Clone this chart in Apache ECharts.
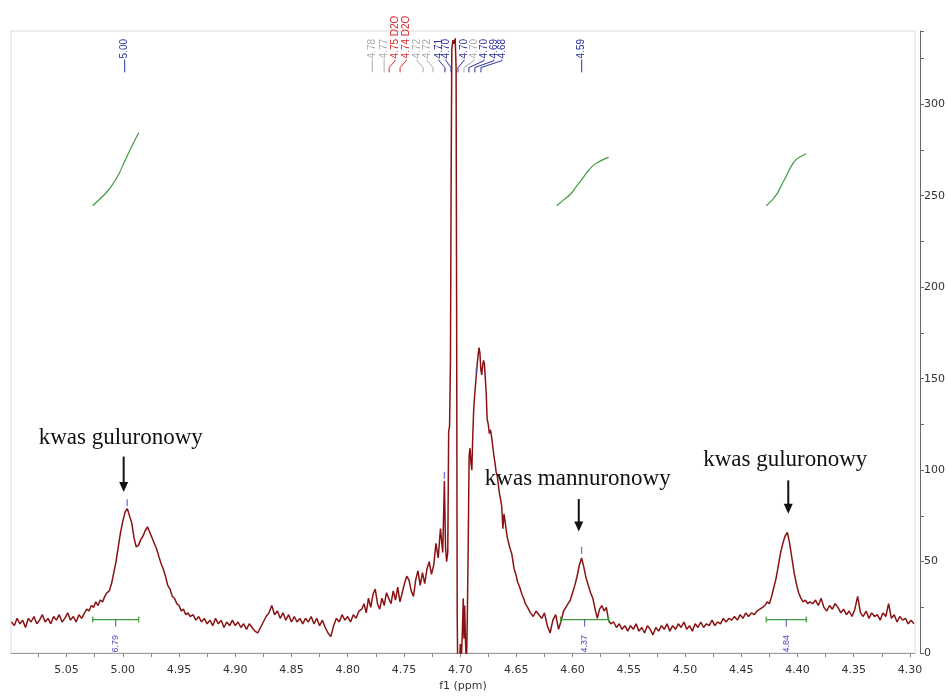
<!DOCTYPE html>
<html>
<head>
<meta charset="utf-8">
<script src="https://cdn.jsdelivr.net/npm/echarts@6/dist/echarts.min.js"></script>
<style>
  html, body { margin: 0; padding: 0; background: #ffffff; }
  #chart { width: 948px; height: 697px; }
</style>
</head>
<body>
<div id="chart"></div>
<script>
// 1H NMR spectrum (f1, ppm) of alginate: chemical shift / intensity pairs per region
const lowFieldBaseline = [
  [5.0990,17],[5.0965,15],[5.0940,19],[5.0915,16],[5.0890,18],[5.0865,14],[5.0840,19],[5.0815,17],
  [5.0790,20],[5.0765,16],[5.0740,18],[5.0715,21],[5.0690,17],[5.0665,19],[5.0640,16],[5.0615,20],
  [5.0590,18],[5.0565,21],[5.0540,17],[5.0515,19],[5.0490,22],[5.0465,18],[5.0440,20],[5.0415,17],
  [5.0390,21],[5.0365,19]
];
const guluronicPeakA = [
  [5.034,22],[5.032,24],[5.030,23],[5.028,26],[5.026,25],[5.024,28],[5.022,26],[5.020,29],
  [5.018,28],[5.016,31],[5.014,33],[5.012,34],[5.010,38],[5.008,44],[5.006,50],[5.004,58],
  [5.002,66],[5.000,72],[4.998,77],[4.996,79],[4.994,75],[4.992,71],[4.990,63],[4.988,58],
  [4.986,59],[4.984,62],[4.982,64],[4.980,67],[4.978,69],[4.976,66],[4.974,63],[4.972,60],
  [4.970,57],[4.968,53],[4.966,49],[4.964,46],[4.962,42],[4.960,37],[4.958,35],[4.956,31],
  [4.954,30],[4.952,27],[4.950,26],[4.948,23],[4.946,24],[4.944,21],[4.942,22],[4.940,20]
];
const midBaseline = [
  [4.9375,21],[4.9350,18],[4.9325,20],[4.9300,17],[4.9275,19],[4.9250,16],[4.9225,18],[4.9200,15],
  [4.9175,19],[4.9150,16],[4.9125,18],[4.9100,14],[4.9075,17],[4.9050,15],[4.9025,18],[4.9000,15],
  [4.8975,17],[4.8950,14],[4.8925,16],[4.8900,13],[4.8875,16],[4.8850,14],[4.8825,12],[4.8800,11],
  [4.8775,14],[4.8750,17],[4.8725,20],[4.8700,22],[4.8675,26],[4.8650,21],[4.8625,23],[4.8600,19],
  [4.8575,22],[4.8550,18],[4.8525,21],[4.8500,17],[4.8475,20],[4.8450,17],[4.8425,19],[4.8400,16],
  [4.8375,19],[4.8350,17],[4.8325,20],[4.8300,16],[4.8275,19],[4.8250,15],[4.8225,18],[4.8200,14],
  [4.8175,11],[4.8150,9],[4.8125,15],[4.8100,19],[4.8075,17],[4.8050,21],[4.8025,18],[4.8000,20],
  [4.7975,17],[4.7950,21],[4.7925,19],[4.7900,23]
];
const waterShoulder = [
  [4.7875,24],[4.7855,27],[4.7835,22],[4.7815,30],[4.7795,25],[4.7775,32],[4.7755,35],[4.7735,27],
  [4.7715,24],[4.7695,30],[4.7675,26],[4.7655,33],[4.7635,30],[4.7615,27],[4.7595,34],[4.7575,29],
  [4.7555,36],[4.7535,28],[4.7515,33],[4.7495,38],[4.7475,42],[4.7455,40],[4.7435,34],[4.7415,31],
  [4.7395,40],[4.7375,45],[4.7355,37],[4.7335,44],[4.7315,38],[4.7295,46],[4.7275,50],[4.7255,43],
  [4.7235,48],[4.7215,60],[4.7195,52],[4.7175,68],[4.7155,55],[4.7140,94],[4.7130,58],[4.7120,50]
];
const waterPeak = [
  [4.7110,55],[4.7102,121],[4.7094,124],[4.7086,160],[4.7080,260],[4.7074,330],[4.7064,335],
  [4.7054,333],[4.7044,336],[4.7036,320],[4.7031,180],[4.7026,20],[4.7020,-20],[4.7010,-10],
  [4.6998,5],[4.6990,-5],[4.6980,12],[4.6972,30],[4.6966,8],[4.6960,26],[4.6952,6],[4.6944,-8],
  [4.6936,20],[4.6928,60],[4.6920,108],[4.6912,112],[4.6904,104],[4.6896,100],[4.6888,118],
  [4.6880,132],[4.6872,140],[4.6864,146],[4.6856,152],[4.6848,158],[4.6840,163],[4.6832,167],
  [4.6824,164],[4.6816,155],[4.6808,152],[4.6800,157],[4.6792,160],[4.6784,158],[4.6776,150],
  [4.6768,142],[4.6760,128],[4.6750,125],[4.6740,120],[4.6730,122],[4.6720,118],[4.6710,113],
  [4.6700,108],[4.6690,104],[4.6680,99],[4.6670,97],[4.6660,92],[4.6650,87],[4.6640,84],
  [4.6630,80],[4.6620,68],[4.6610,76],[4.6600,72],[4.6590,67],[4.6580,63],[4.6570,64],
  [4.6560,58],[4.6550,56],[4.6540,54],[4.6530,50],[4.6520,46],[4.6510,44],[4.6500,42],
  [4.6490,39],[4.6480,38],[4.6470,36],[4.6460,34],[4.6450,32],[4.6440,33],[4.6430,29],
  [4.6420,27],[4.6410,26],[4.6400,25]
];
const mannuronicPeak = [
  [4.6375,22],[4.6350,20],[4.6325,23],[4.6300,21],[4.6275,19],[4.6250,22],[4.6225,15],[4.6200,11],
  [4.6175,18],[4.6150,21],[4.6125,13],[4.6100,18],[4.6080,23],[4.6060,25],[4.6040,27],[4.6020,29],
  [4.6000,33],[4.5980,37],[4.5960,42],[4.5940,48],[4.5920,52],[4.5900,47],[4.5880,41],[4.5860,37],
  [4.5840,33],[4.5820,30],[4.5800,24],[4.5780,19],[4.5760,24],[4.5740,26],[4.5720,23],[4.5700,25],
  [4.5680,18],[4.5660,16]
];
const highFieldBaseline = [
  [4.5635,17],[4.5610,14],[4.5585,16],[4.5560,13],[4.5535,15],[4.5510,12],[4.5485,15],[4.5460,13],
  [4.5435,16],[4.5410,12],[4.5385,14],[4.5360,11],[4.5335,15],[4.5310,13],[4.5285,10],[4.5260,14],
  [4.5235,12],[4.5210,15],[4.5185,13],[4.5160,16],[4.5135,12],[4.5110,15],[4.5085,13],[4.5060,16],
  [4.5035,14],[4.5010,17],[4.4985,13],[4.4960,15],[4.4935,12],[4.4910,16],[4.4885,14],[4.4860,17],
  [4.4835,14],[4.4810,16],[4.4785,15],[4.4760,18],[4.4735,15],[4.4710,17],[4.4685,16],[4.4660,19],
  [4.4635,17],[4.4610,19],[4.4585,18],[4.4560,20],[4.4535,18],[4.4510,21],[4.4485,19],[4.4460,22],
  [4.4435,20],[4.4410,22],[4.4385,21],[4.4360,23],[4.4335,24]
];
const guluronicPeakB = [
  [4.431,25],[4.429,26],[4.427,28],[4.425,27],[4.423,31],[4.421,36],[4.419,41],[4.417,48],
  [4.415,55],[4.413,60],[4.411,64],[4.409,66],[4.407,60],[4.405,52],[4.403,44],[4.401,38],
  [4.399,33],[4.397,30],[4.395,28],[4.393,29],[4.391,27],[4.389,28]
];
const upfieldTail = [
  [4.3865,27],[4.3840,29],[4.3815,26],[4.3790,30],[4.3765,25],[4.3740,23],[4.3715,26],[4.3690,24],
  [4.3665,27],[4.3640,25],[4.3615,22],[4.3590,24],[4.3565,21],[4.3540,23],[4.3515,20],[4.3490,24],
  [4.3465,31],[4.3440,22],[4.3415,20],[4.3390,23],[4.3365,19],[4.3340,22],[4.3315,20],[4.3290,21],
  [4.3265,18],[4.3240,22],[4.3215,20],[4.3190,27],[4.3165,19],[4.3140,21],[4.3115,17],[4.3090,20],
  [4.3065,18],[4.3040,19],[4.3015,16],[4.2990,18],[4.2965,16]
];

// Integral traces and their values
const integralCurveA = [[5.0267,244.5],[5.0205,248.2],[5.0142,252.0],[5.0089,256.3],[5.0036,261.7],[4.9983,268.8],[4.9929,275.8],[4.9885,281.2],[4.9858,284.4]];
const integralCurveB = [[4.6141,244.5],[4.6079,247.7],[4.6017,250.9],[4.5963,255.3],[4.5910,259.6],[4.5857,263.9],[4.5803,267.1],[4.5741,269.3],[4.5679,270.9]];
const integralCurveC = [[4.4278,244.5],[4.4233,247.2],[4.4189,250.4],[4.4145,255.3],[4.4100,260.7],[4.4056,266.0],[4.4011,269.8],[4.3967,271.5],[4.3922,273.1]];
const integralLabel = ['6.79', '4.37', '4.84'];
const integralFrom = [5.0267, 4.6106, 4.4278];
const integralTo = [4.9858, 4.5679, 4.3922];

// Peak picking
const peakLabelText = ['5.00','4.78','4.77','4.75 D2O','4.74 D2O','4.72','4.72','4.71','4.70','4.70','4.70','4.70','4.69','4.68','4.59'];
const peakLabelShift = [4.9983,4.7782,4.7676,4.7578,4.7480,4.7383,4.7294,4.7188,4.7126,4.6966,4.6877,4.6788,4.6700,4.6629,4.5919];
const peakTargetShift = [4.9983,4.7782,4.7676,4.7631,4.7534,4.7330,4.7241,4.7135,4.7081,4.7019,4.6966,4.6922,4.6869,4.6815,4.5919];
const peakLabelTone = ['blue','grey','grey','red','red','grey','grey','blue','blue','blue','grey','blue','blue','blue','blue'];
const pickedPeaks = [[4.9961,80],[4.7140,95],[4.6856,152],[4.5920,54]];

// Annotations
const annotationText = ['kwas guluronowy', 'kwas mannuronowy', 'kwas guluronowy'];
const annotationShift = [5.0018, 4.5954, 4.4109];
const annotationLevel = [117.6, 95.0, 105.8];
const arrowShift = [4.9992, 4.5945, 4.4082];
const arrowTop = [107.4, 84.2, 94.4];
const arrowTip = [88.0, 66.4, 76.1];

// Axis ticks
const xTickValues = [4.300,4.325,4.350,4.375,4.400,4.425,4.450,4.475,4.500,4.525,4.550,4.575,4.600,4.625,4.650,4.675,
  4.700,4.725,4.750,4.775,4.800,4.825,4.850,4.875,4.900,4.925,4.950,4.975,5.000,5.025,5.050,5.075];
const xLabelValues = [4.30,4.35,4.40,4.45,4.50,4.55,4.60,4.65,4.70,4.75,4.80,4.85,4.90,4.95,5.00,5.05];

const spectrum = [].concat(lowFieldBaseline, guluronicPeakA, midBaseline, waterShoulder, waterPeak,
  mannuronicPeak, highFieldBaseline, guluronicPeakB, upfieldTail);

const TONE = { blue: '#2b2f9e', red: '#e2262a', grey: '#a9a9a9' };
const GREEN = '#3f9c3f';
const LABEL_LEVEL = { text: 325.0, bendStart: 323.8, bendEnd: 320.0, tip: 317.4 };
const INTEGRAL_LEVEL = 18.3;

const chart = echarts.init(document.getElementById('chart'), null, { renderer: 'canvas' });

function renderPeakLabel(params, api) {
  const i = params.dataIndex;
  const lx = api.coord([api.value(0), 0])[0];
  const tx = api.coord([api.value(2), 0])[0];
  const yText = api.coord([0, LABEL_LEVEL.text])[1];
  const y1 = api.coord([0, LABEL_LEVEL.bendStart])[1];
  const y2 = api.coord([0, LABEL_LEVEL.bendEnd])[1];
  const y3 = api.coord([0, LABEL_LEVEL.tip])[1];
  const color = TONE[peakLabelTone[i]];
  return {
    type: 'group',
    children: [
      { type: 'polyline', shape: { points: [[lx, yText + 1], [lx, y1], [tx, y2], [tx, y3]] },
        style: { stroke: color, lineWidth: 1, fill: null } },
      { type: 'text', x: lx, y: yText, rotation: Math.PI / 2,
        style: { text: peakLabelText[i], fill: color, font: '10px "Liberation Sans", Arial, sans-serif',
                 align: 'left', verticalAlign: 'middle' } }
    ]
  };
}

function renderAnnotation(params, api) {
  const i = params.dataIndex;
  const t = api.coord([annotationShift[i], annotationLevel[i]]);
  const a0 = api.coord([arrowShift[i], arrowTop[i]]);
  const a1 = api.coord([arrowShift[i], arrowTip[i]]);
  const head = 10, half = 4.5;
  return {
    type: 'group',
    children: [
      { type: 'text', x: t[0], y: t[1],
        style: { text: annotationText[i], fill: '#111', font: '23px "Liberation Serif", "Times New Roman", serif',
                 align: 'center', verticalAlign: 'middle' } },
      { type: 'line', shape: { x1: a0[0], y1: a0[1], x2: a1[0], y2: a1[1] - head + 1 },
        style: { stroke: '#111', lineWidth: 2 } },
      { type: 'polygon', shape: { points: [[a1[0] - half, a1[1] - head], [a1[0] + half, a1[1] - head], [a1[0], a1[1]]] },
        style: { fill: '#111' } }
    ]
  };
}

function renderIntegral(params, api) {
  const i = params.dataIndex;
  const p0 = api.coord([integralFrom[i], INTEGRAL_LEVEL]);
  const p1 = api.coord([integralTo[i], INTEGRAL_LEVEL]);
  const mx = (p0[0] + p1[0]) / 2;
  const y = p0[1];
  return {
    type: 'group',
    children: [
      { type: 'line', shape: { x1: p0[0], y1: y, x2: p1[0], y2: y }, style: { stroke: GREEN, lineWidth: 1.2 } },
      { type: 'line', shape: { x1: p0[0], y1: y - 3, x2: p0[0], y2: y + 3 }, style: { stroke: GREEN, lineWidth: 1.2 } },
      { type: 'line', shape: { x1: p1[0], y1: y - 3, x2: p1[0], y2: y + 3 }, style: { stroke: GREEN, lineWidth: 1.2 } },
      { type: 'line', shape: { x1: mx, y1: y, x2: mx, y2: y + 7 }, style: { stroke: '#4a4ab8', lineWidth: 1 } },
      { type: 'text', x: mx, y: y + 33, rotation: Math.PI / 2,
        style: { text: integralLabel[i], fill: '#4a4ab8', font: '9px "Liberation Sans", Arial, sans-serif',
                 align: 'left', verticalAlign: 'middle' } }
    ]
  };
}

const option = {
  animation: false,
  backgroundColor: '#ffffff',
  grid: { left: 11, right: 31, top: 31, bottom: 36, show: true, borderColor: '#dcdcdc', borderWidth: 1 },
  xAxis: {
    type: 'value', inverse: true, min: 4.2955, max: 5.0994,
    name: 'f1 (ppm)', nameLocation: 'middle', nameGap: 27,
    nameTextStyle: { fontFamily: 'DejaVu Sans', fontSize: 11, color: '#333' },
    axisLine: { show: true, onZero: false, lineStyle: { color: '#9a9a9a', width: 1 } },
    axisTick: { show: true, length: 4, lineStyle: { color: '#8a8a8a' }, customValues: xTickValues },
    axisLabel: { fontFamily: 'DejaVu Sans', fontSize: 11, color: '#333', margin: 12,
                 customValues: xLabelValues, formatter: v => v.toFixed(2) },
    splitLine: { show: false }
  },
  yAxis: {
    type: 'value', position: 'right', offset: 5, min: 0, max: 340, interval: 50,
    axisLine: { show: true, lineStyle: { color: '#666', width: 1 } },
    axisTick: { show: true, length: 4, lineStyle: { color: '#666' } },
    minorTick: { show: true, splitNumber: 2, length: 4, lineStyle: { color: '#666' } },
    axisLabel: { fontFamily: 'DejaVu Sans', fontSize: 11, color: '#333', margin: 4, showMaxLabel: false },
    splitLine: { show: false }
  },
  series: [
    {
      type: 'line', data: spectrum, showSymbol: false, clip: true, z: 2,
      lineStyle: { color: '#8a1212', width: 1.5 }
    },
    ...[integralCurveA, integralCurveB, integralCurveC].map(curve => ({
      type: 'line', data: curve, showSymbol: false, smooth: true, z: 3,
      lineStyle: { color: GREEN, width: 1.2 }
    })),
    {
      type: 'scatter', data: pickedPeaks, symbol: 'rect', symbolSize: [1.3, 7], symbolOffset: [0, -4],
      itemStyle: { color: '#5050c8' }, z: 4
    },
    {
      type: 'custom', z: 5, clip: false,
      data: peakLabelShift.map((s, i) => [s, LABEL_LEVEL.text, peakTargetShift[i]]),
      encode: { x: [0, 2], y: 1 },
      renderItem: renderPeakLabel
    },
    {
      type: 'custom', z: 5, clip: false,
      data: integralFrom.map((s, i) => [s, INTEGRAL_LEVEL, integralTo[i]]),
      encode: { x: [0, 2], y: 1 },
      renderItem: renderIntegral
    },
    {
      type: 'custom', z: 6, clip: false,
      data: annotationShift.map((s, i) => [s, annotationLevel[i]]),
      encode: { x: 0, y: 1 },
      renderItem: renderAnnotation
    }
  ]
};

chart.setOption(option);
</script>
</body>
</html>
